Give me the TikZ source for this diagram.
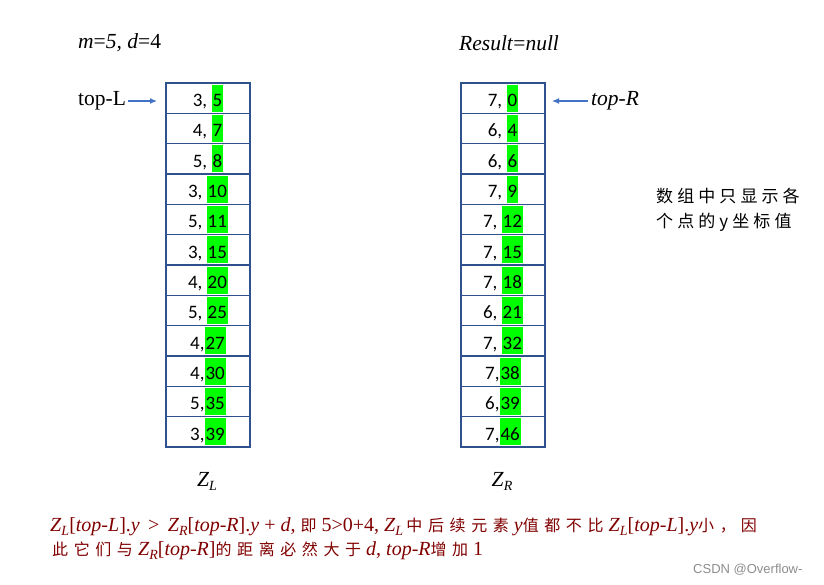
\documentclass[tikz,border=0pt]{standalone}
\usepackage{fontspec}
\setmainfont{Liberation Serif}
\newfontfamily\cjk[LetterSpace=24]{Noto Sans CJK SC}
\newfontfamily\cjkb[LetterSpace=35]{Noto Sans CJK SC}
\newfontfamily\cellfont{Carlito}
\newfontfamily\wmfont{Liberation Sans}
\definecolor{tblue}{RGB}{47,82,143}
\definecolor{ablue}{RGB}{68,114,196}
\definecolor{hlgreen}{RGB}{0,255,0}
\definecolor{dred}{RGB}{128,0,0}
\newcommand\hlg[1]{{\setlength{\fboxsep}{0pt}\colorbox{hlgreen}{\rule[-5pt]{0pt}{27pt}\hspace{1pt}#1\hspace{1pt}}}}
\newcommand\Zs[1]{\textit{Z}\raisebox{-0.4ex}{\fontsize{14}{14}\selectfont\textit{#1}}}
\newcommand\cb[1]{{\cjkb\fontsize{16}{16}\selectfont #1}\hspace{5pt}}
\usetikzlibrary{arrows.meta}
\tikzset{
  cell/.style={draw=tblue,line width=1.1pt,minimum width=84pt,minimum height=30.33pt,inner sep=0pt,font=\cellfont\fontsize{19}{20}\selectfont},
  lbl/.style={inner sep=0pt,font=\fontsize{21.5}{24}\selectfont},
  ptr/.style={draw=ablue,line width=1.2pt,-{Latex[length=7pt,width=6pt]}},
  btxt/.style={inner sep=0pt,anchor=west,text=dred,font=\fontsize{20}{22}\selectfont},
}
\begin{document}
\begin{tikzpicture}[x=1pt,y=-1pt]
\useasboundingbox (0,0) rectangle (824,585);
% headers
\node[lbl,anchor=west] (mtxt) at (78,43) {\textit{m}=\textit{5, d}=4};
\node[lbl,anchor=west] (rtxt) at (459,43) {\textit{Result}=\textit{null}};
% left table
\foreach \i/\t in {1/{3, \hlg{5}},2/{4, \hlg{7}},3/{5, \hlg{8}},4/{3, \hlg{10}},5/{5, \hlg{11}},6/{3, \hlg{15}},7/{4, \hlg{20}},8/{5, \hlg{25}},9/{4,\hlg{27}},10/{4,\hlg{30}},11/{5,\hlg{35}},12/{3,\hlg{39}}}{
  \node[cell] (L\i) at (208,{83+30.33*(\i-0.5)}) {\t};
}
% right table
\foreach \i/\t in {1/{7, \hlg{0}},2/{6, \hlg{4}},3/{6, \hlg{6}},4/{7, \hlg{9}},5/{7, \hlg{12}},6/{7, \hlg{15}},7/{7, \hlg{18}},8/{6, \hlg{21}},9/{7, \hlg{32}},10/{7,\hlg{38}},11/{6,\hlg{39}},12/{7,\hlg{46}}}{
  \node[cell] (R\i) at (503,{83+30.33*(\i-0.5)}) {\t};
}
% pointers
\node[lbl,anchor=west] (topL) at (78,101) {top-L};
\coordinate (topLend) at (157,101);
\draw[ptr,shorten <=2pt] (topL.east) -- (topLend);
\node[lbl,anchor=west] (topR) at (591,101) {\textit{top-R}};
\coordinate (topRend) at (552,101);
\draw[ptr,shorten <=3pt] (topR.west) -- (topRend);
% labels under
\node[lbl] (ZL) at (207,481) {\Zs{L}};
\node[lbl] (ZR) at (502,481) {\Zs{R}};
% side note
\node[inner sep=0pt,anchor=north west,align=left,font=\cjk\fontsize{17}{25}\selectfont] (note) at (656,188) {数组中只显示各\\个点的y坐标值};
% bottom text
\node[btxt] (b1) at (50,527) {\Zs{L}[\textit{top-L}].\textit{y} \,>\, \Zs{R}[\textit{top-R}].\textit{y} + \textit{d}, \cb{即}5>0+4, \Zs{L}\,\cb{中后续元素}\textit{y}\cb{值都不比}\Zs{L}[\textit{top-L}].\textit{y}\cb{小，}\cb{因}};
\node[btxt] (b2) at (52,551) {\cb{此它们与}\Zs{R}[\textit{top-R}]\cb{的距离必然大于}\textit{d}, \textit{top-R}\cb{增加}1};
% watermark
\node[inner sep=0pt,anchor=west,text=black!45,font=\wmfont\fontsize{13}{14}\selectfont] (wm) at (693,570) {CSDN @Overflow-};
\end{tikzpicture}
\end{document}
